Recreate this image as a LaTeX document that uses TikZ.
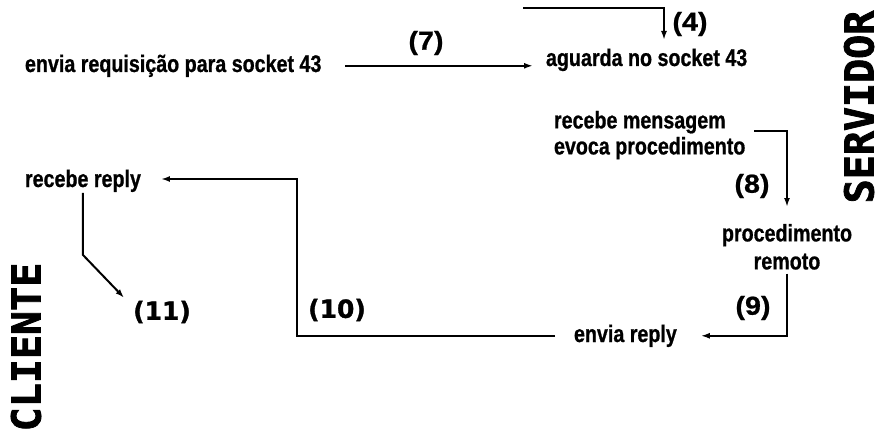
\documentclass[tikz,border=0pt]{standalone}
\usepackage{fontspec}
\setmainfont{Liberation Sans}
\newfontfamily\txtfont[FakeStretch=0.82,FakeBold=0.8]{Liberation Sans}
\newfontfamily\labfont[FakeStretch=1.1,FakeBold=0.8]{Liberation Sans}
\newfontfamily\comicfont[FakeBold=1.2]{DejaVu Sans}
\newfontfamily\sidefont[FakeBold=2]{DejaVu Sans Mono}
\usetikzlibrary{arrows.meta}
\begin{document}
\begin{tikzpicture}[x=1pt,y=-1pt, line width=2pt,
  arr/.style={-{Latex[length=9pt,width=6pt]}},
  txt/.style={inner sep=0pt, font=\txtfont\bfseries\fontsize{24pt}{26pt}\selectfont},
  lab/.style={inner sep=0pt, font=\labfont\bfseries\fontsize{26pt}{28pt}\selectfont},
  cmc/.style={inner sep=0pt, font=\comicfont\bfseries\fontsize{25pt}{28pt}\selectfont},
  side/.style={inner sep=0pt, rotate=90, font=\sidefont\bfseries\fontsize{40pt}{42pt}\selectfont}]
\useasboundingbox[fill=white] (0,0) rectangle (881,433);

% texts
\node[txt, anchor=base west] (req) at (24,72) {envia requisição para socket 43};
\node[txt, anchor=base west] (agu) at (545,66) {aguarda no socket 43};
\node[txt, anchor=north west, align=left] (rm) at (553,110) {recebe mensagem\\evoca procedimento};
\node[txt, anchor=north, align=center, font=\txtfont\bfseries\fontsize{24pt}{28pt}\selectfont] (proc) at (787,223) {procedimento\\remoto};
\node[txt, anchor=base west] (er) at (573,342) {envia reply};
\node[txt, anchor=base west] (rr) at (24,187) {recebe reply};

% step labels
\node[lab] (l4) at (690,24) {(4)};
\node[lab] (l7) at (426,43) {(7)};
\node[lab] (l8) at (752,186) {(8)};
\node[lab] (l9) at (753,308) {(9)};
\node[cmc] (l10) at (337,310) {(10)};
\node[cmc] (l11) at (162,312) {(11)};

% side titles
\node[side] (srv) at (859,107) {SERVIDOR};
\node[side] (cli) at (26,347) {CLIENTE};

% connectors
\coordinate (top) at (523,8);
\coordinate (t4) at (664,40);
\draw[arr] (top) -| (t4);
\draw[arr] ([xshift=23pt]req.east) -- ([xshift=-12pt]req.east -| agu.west);
\draw[arr] ([xshift=8pt]rm.east |- 0,131) -| ([yshift=16pt]proc.north);
\draw[arr] ([yshift=-3pt]proc.south) |- ([xshift=23pt]er.east);
\coordinate (c10) at (297,179);
\draw[arr] ([xshift=-18pt]er.west) -| (c10) -- ([xshift=19pt]rr.east |- c10);
\draw[arr] (rr.south) -- ++(0,62) -- ([shift={(-8pt,2pt)}]l11.north west);
\end{tikzpicture}
\end{document}
